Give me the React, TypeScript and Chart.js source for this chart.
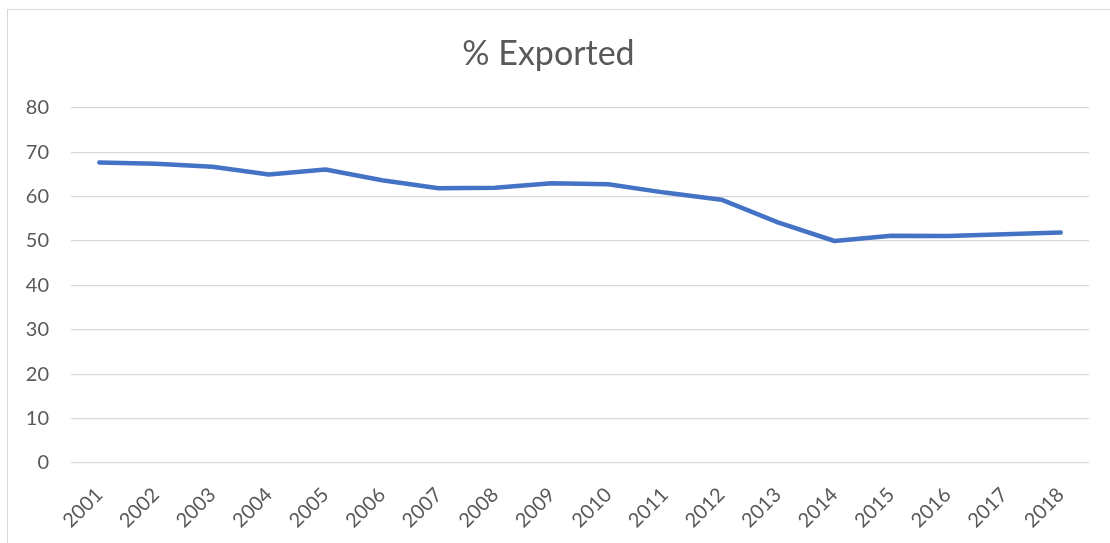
import React, { useEffect, useRef } from "react";
import { Chart, registerables } from "chart.js";

Chart.register(...registerables);

const years = ["2001","2002","2003","2004","2005","2006","2007","2008","2009","2010","2011","2012","2013","2014","2015","2016","2017","2018"];
const exported = [67.7, 67.4, 66.7, 65.0, 66.1, 63.7, 61.9, 62.0, 63.0, 62.8, 60.9, 59.3, 54.2, 50.0, 51.2, 51.1, 51.5, 51.9];
const yTicks = [0, 10, 20, 30, 40, 50, 60, 70, 80];
const titleText = "% Exported";

export default function App() {
  const ref = useRef<HTMLCanvasElement>(null);
  useEffect(() => {
    document.body.style.margin = "0";
    const ctx = ref.current!;
    const chart = new Chart(ctx, {
      type: "line",
      data: {
        labels: years,
        datasets: [
          {
            label: titleText,
            data: exported,
            borderColor: "#4472C4",
            backgroundColor: "#4472C4",
            borderWidth: 4.5,
            pointRadius: 0,
            tension: 0,
            borderCapStyle: "round",
            borderJoinStyle: "round",
          },
        ],
      },
      options: {
        animation: false,
        responsive: false,
        maintainAspectRatio: false,
        layout: { padding: { left: 0, right: 29, top: 0, bottom: 0 } },
        plugins: {
          legend: { display: false },
          tooltip: { enabled: false },
          title: {
            display: true,
            text: titleText,
            color: "#595959",
            font: { family: "Lato", size: 34, weight: "normal" },
            padding: { top: 24, bottom: 33 },
          },
        },
        scales: {
          x: {
            offset: true,
            grid: { display: false },
            border: { display: false },
            ticks: {
              color: "#595959",
              font: { family: "Lato", size: 20 },
              maxRotation: 45,
              minRotation: 45,
              padding: 12,
              autoSkip: false,
            },
            afterFit: (s: any) => { s.height = 90; },
          },
          y: {
            min: 0,
            max: 80,
            afterBuildTicks: (s: any) => { s.ticks = yTicks.map((v) => ({ value: v })); },
            grid: { color: "#d9d9d9", lineWidth: 1.3, drawTicks: false },
            border: { display: false },
            ticks: {
              color: "#595959",
              font: { family: "Lato", size: 20 },
              padding: 22,
            },
            afterFit: (s: any) => { s.width = 63; },
          },
        },
      },
    });
    return () => chart.destroy();
  }, []);
  return (
    <div style={{ position: "relative", width: 1110, height: 543, overflow: "hidden", background: "#fff" }}>
      <div style={{ position: "absolute", left: 7, top: 9, width: 1112, height: 545, border: "1px solid #d9d9d9", boxSizing: "border-box" }}>
        <canvas ref={ref} width={1110} height={543} style={{ display: "block" }} />
      </div>
    </div>
  );
}
